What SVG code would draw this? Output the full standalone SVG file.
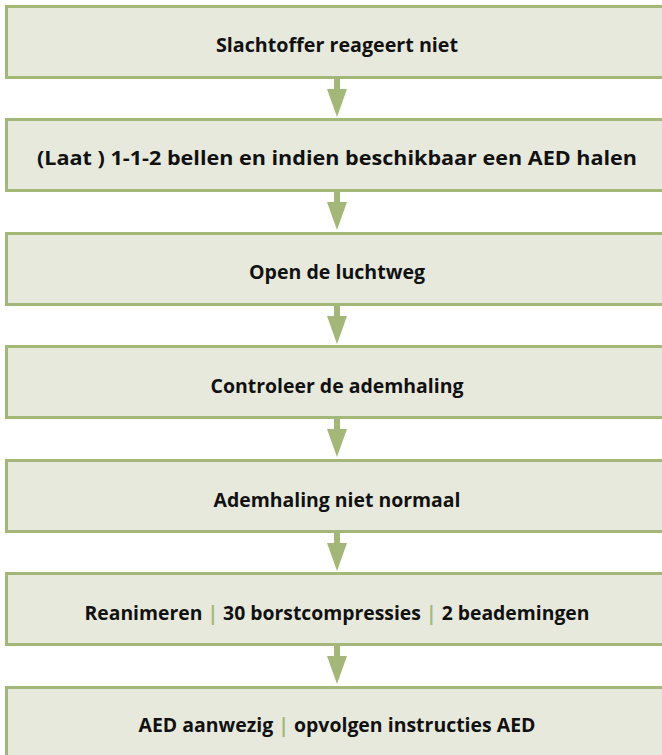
<svg xmlns="http://www.w3.org/2000/svg" width="662" height="755" viewBox="0 0 662 755">
<style>
.box{fill:#e8e9dd;stroke:#a3b878;stroke-width:3}
.t{font-family:"Open Sans","Noto Sans",sans-serif;font-weight:bold;font-size:19.5px;fill:#111;text-anchor:middle}
.sep{fill:#a3b878}
.arr{fill:#a3b878}
</style>
<defs>
<g id="arrow"><rect x="334" y="0" width="6" height="11"/><polygon points="327,10 347,10 337,38"/></g>
</defs>
<rect width="662" height="755" fill="#fff"/>
<g id="node1"><rect class="box" x="6.5" y="6.5" width="664" height="71"/><text class="t" x="337" y="52" textLength="242" lengthAdjust="spacingAndGlyphs">Slachtoffer reageert niet</text></g>
<g id="node2"><rect class="box" x="6.5" y="119.5" width="664" height="71"/><text class="t" x="337" y="165" textLength="600" lengthAdjust="spacingAndGlyphs">(Laat ) 1-1-2 bellen en indien beschikbaar een AED halen</text></g>
<g id="node3"><rect class="box" x="6.5" y="233.5" width="664" height="71"/><text class="t" x="337" y="279" textLength="176" lengthAdjust="spacingAndGlyphs">Open de luchtweg</text></g>
<g id="node4"><rect class="box" x="6.5" y="346.5" width="664" height="71"/><text class="t" x="337" y="393" textLength="253" lengthAdjust="spacingAndGlyphs">Controleer de ademhaling</text></g>
<g id="node5"><rect class="box" x="6.5" y="460.5" width="664" height="71"/><text class="t" x="337" y="507" textLength="247" lengthAdjust="spacingAndGlyphs">Ademhaling niet normaal</text></g>
<g id="node6"><rect class="box" x="6.5" y="573.5" width="664" height="71"/><text class="t" x="337" y="620" textLength="505" lengthAdjust="spacingAndGlyphs">Reanimeren <tspan class="sep">|</tspan> 30 borstcompressies <tspan class="sep">|</tspan> 2 beademingen</text></g>
<g id="node7"><rect class="box" x="6.5" y="687.5" width="664" height="80"/><text class="t" x="337" y="732" textLength="397" lengthAdjust="spacingAndGlyphs">AED aanwezig <tspan class="sep">|</tspan> opvolgen instructies AED</text></g>
<g id="connectors" class="arr">
<use href="#arrow" y="79"/>
<use href="#arrow" y="192"/>
<use href="#arrow" y="306"/>
<use href="#arrow" y="419"/>
<use href="#arrow" y="533"/>
<use href="#arrow" y="646"/>
</g>
</svg>
